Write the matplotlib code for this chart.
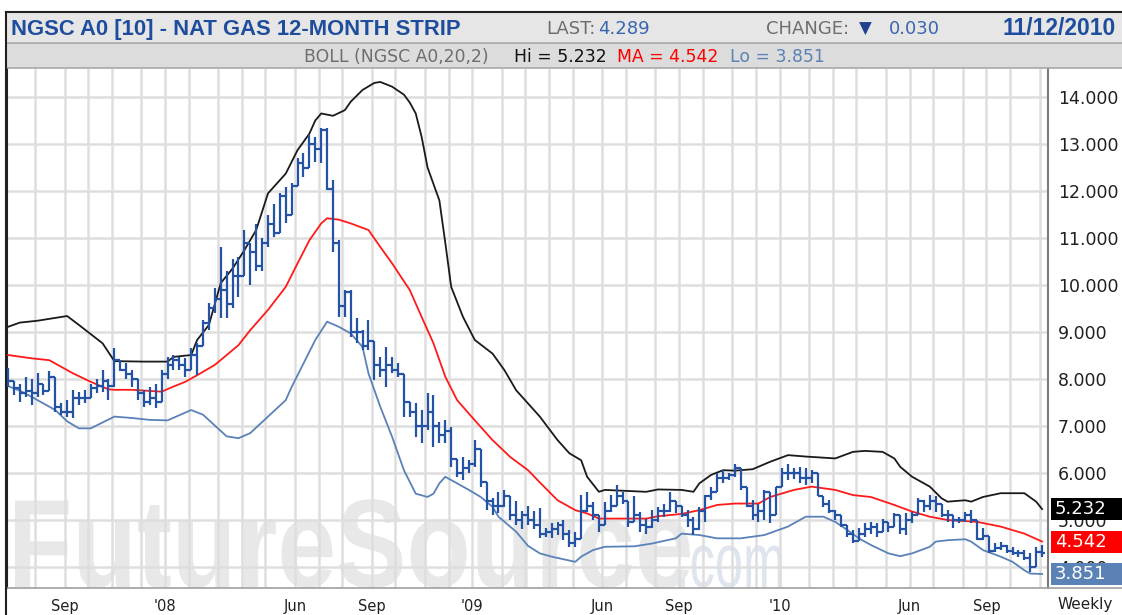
import numpy as np
import pandas as pd
import matplotlib
matplotlib.use("Agg")
import matplotlib.pyplot as plt
import matplotlib.dates as mdates
from matplotlib.textpath import TextPath
from matplotlib.patches import PathPatch, Rectangle
from matplotlib.font_manager import FontProperties
from matplotlib.transforms import Affine2D
from matplotlib.lines import Line2D

# --- Data (weekly bars) ---
first_week = "2007-07-06"
n_weeks = 176

high = [8.23, 7.94, 7.90, 8.05, 8.01, 8.12, 7.90, 8.16, 7.80, 7.48,
        7.55, 7.77, 7.73, 7.77, 7.90, 8.00, 8.19, 8.01, 8.65, 8.40,
        8.33, 8.19, 7.98, 7.77, 7.84, 7.90, 8.19, 8.47, 8.51, 8.47,
        8.44, 8.65, 8.76, 9.26, 9.61, 9.93, 10.80, 10.30, 10.55, 10.60,
        11.17, 10.90, 11.30, 11.00, 11.50, 11.73, 11.95, 12.09, 12.16, 12.70,
        12.80, 13.19, 13.15, 13.35, 13.35, 12.23, 10.95, 9.89, 9.90, 9.29,
        9.04, 9.25, 8.68, 8.47, 8.68, 8.47, 8.33, 7.87, 7.48, 7.48,
        7.34, 7.70, 7.66, 7.09, 7.13, 6.98, 6.24, 6.34, 6.27, 6.70,
        6.13, 5.64, 5.46, 5.60, 5.64, 5.39, 5.40, 5.20, 5.30, 5.20,
        5.25, 4.82, 4.93, 4.96, 5.00, 4.79, 4.75, 5.53, 5.60, 5.39,
        5.07, 5.39, 5.53, 5.74, 5.60, 5.35, 5.50, 5.18, 5.03, 5.21,
        5.28, 5.35, 5.60, 5.39, 5.25, 5.21, 5.07, 5.28, 5.53, 5.71,
        5.99, 6.06, 5.99, 6.20, 6.03, 5.71, 5.42, 5.35, 5.64, 5.42,
        5.71, 6.10, 6.20, 6.10, 6.13, 6.10, 6.06, 5.96, 5.46, 5.42,
        5.21, 5.10, 4.89, 4.79, 4.82, 4.93, 4.96, 4.93, 5.03, 4.96,
        5.14, 5.00, 5.14, 5.18, 5.46, 5.42, 5.53, 5.50, 5.32, 5.21,
        5.10, 5.07, 5.18, 5.21, 4.93, 4.82, 4.57, 4.50, 4.54, 4.47,
        4.43, 4.36, 4.36, 4.29, 4.43, 4.47]
low = [7.84, 7.66, 7.52, 7.62, 7.45, 7.62, 7.66, 7.87, 7.30, 7.23,
       7.20, 7.16, 7.45, 7.48, 7.70, 7.70, 7.73, 7.55, 7.84, 8.16,
       8.01, 7.84, 7.55, 7.41, 7.45, 7.38, 7.84, 8.01, 8.19, 8.19,
       8.05, 8.26, 8.09, 8.76, 9.04, 9.40, 9.30, 9.30, 9.50, 9.75,
       10.25, 10.00, 10.30, 10.30, 10.80, 11.02, 11.45, 11.31, 11.66, 12.20,
       12.30, 12.58, 12.62, 12.60, 12.02, 10.71, 9.32, 9.32, 8.90, 8.76,
       8.61, 8.61, 7.97, 8.05, 7.83, 8.12, 8.05, 7.20, 7.20, 6.77,
       6.63, 6.91, 6.56, 6.63, 6.63, 6.13, 5.92, 5.85, 5.99, 6.13,
       5.71, 5.21, 5.10, 5.14, 5.28, 5.00, 4.90, 4.80, 4.90, 4.80,
       4.61, 4.64, 4.61, 4.68, 4.57, 4.43, 4.43, 4.79, 5.18, 5.00,
       4.75, 4.96, 5.18, 5.39, 5.35, 4.86, 5.00, 4.75, 4.71, 4.82,
       4.96, 5.07, 5.18, 5.14, 5.07, 4.86, 4.68, 4.79, 4.96, 5.42,
       5.71, 5.78, 5.85, 5.92, 5.64, 5.28, 5.00, 4.96, 5.00, 4.93,
       5.35, 5.74, 5.85, 5.88, 5.78, 5.74, 5.78, 5.50, 5.28, 5.14,
       5.00, 4.86, 4.64, 4.50, 4.57, 4.64, 4.71, 4.64, 4.75, 4.75,
       4.86, 4.71, 4.68, 4.93, 5.18, 5.18, 5.21, 5.18, 5.07, 4.96,
       4.82, 4.93, 4.96, 4.93, 4.57, 4.57, 4.29, 4.32, 4.36, 4.29,
       4.25, 4.22, 4.15, 3.90, 4.08, 4.22]
close = [7.95, 7.80, 7.70, 7.75, 7.70, 7.90, 7.75, 8.05, 7.40, 7.30,
         7.30, 7.60, 7.60, 7.60, 7.80, 7.85, 7.95, 7.85, 8.40, 8.20,
         8.10, 8.00, 7.70, 7.50, 7.60, 7.50, 8.10, 8.30, 8.40, 8.30,
         8.20, 8.50, 8.70, 9.20, 9.50, 9.70, 9.90, 9.60, 10.20, 10.20,
         10.90, 10.70, 10.40, 10.90, 11.30, 11.10, 11.90, 11.50, 12.10, 12.60,
         12.50, 13.00, 12.90, 13.30, 12.05, 10.90, 9.55, 9.85, 9.00, 9.00,
         8.70, 8.80, 8.30, 8.20, 8.30, 8.20, 8.10, 7.50, 7.30, 7.00,
         7.00, 7.30, 7.00, 6.80, 6.90, 6.30, 6.00, 6.10, 6.20, 6.50,
         5.80, 5.40, 5.30, 5.30, 5.50, 5.10, 5.00, 5.10, 5.00, 4.90,
         4.70, 4.75, 4.80, 4.90, 4.70, 4.50, 4.60, 5.20, 5.30, 5.10,
         4.90, 5.20, 5.30, 5.50, 5.40, 4.95, 5.10, 4.90, 4.85, 5.00,
         5.20, 5.20, 5.40, 5.30, 5.10, 5.00, 4.80, 5.20, 5.50, 5.60,
         5.90, 5.90, 5.95, 6.10, 5.70, 5.30, 5.10, 5.20, 5.60, 5.10,
         5.70, 6.00, 6.00, 6.00, 5.90, 5.90, 6.00, 5.50, 5.35, 5.20,
         5.10, 4.90, 4.70, 4.55, 4.70, 4.80, 4.85, 4.75, 4.95, 4.85,
         5.10, 4.80, 5.00, 5.10, 5.40, 5.30, 5.40, 5.35, 5.10, 5.10,
         5.00, 5.00, 5.10, 5.00, 4.60, 4.65, 4.35, 4.40, 4.45, 4.35,
         4.30, 4.30, 4.20, 4.00, 4.319, 4.289]
opens = [8.10, 7.95, 7.80, 7.70, 7.75, 7.70, 7.90, 7.75, 8.05, 7.40,
         7.30, 7.30, 7.60, 7.60, 7.60, 7.80, 7.85, 7.95, 7.85, 8.40,
         8.20, 8.10, 8.00, 7.70, 7.50, 7.60, 7.50, 8.10, 8.30, 8.40,
         8.30, 8.20, 8.50, 8.70, 9.20, 9.50, 9.70, 9.90, 9.60, 10.20,
         10.20, 10.90, 10.70, 10.40, 10.90, 11.30, 11.10, 11.90, 11.50, 12.10,
         12.60, 12.50, 13.00, 12.90, 13.30, 12.05, 10.90, 9.55, 9.85, 9.00,
         9.00, 8.70, 8.80, 8.30, 8.20, 8.30, 8.20, 8.10, 7.50, 7.30,
         7.00, 7.00, 7.30, 7.00, 6.80, 6.90, 6.30, 6.00, 6.10, 6.20,
         6.50, 5.80, 5.40, 5.30, 5.30, 5.50, 5.10, 5.00, 5.10, 5.00,
         4.90, 4.70, 4.75, 4.80, 4.90, 4.70, 4.50, 4.60, 5.20, 5.30,
         5.10, 4.90, 5.20, 5.30, 5.50, 5.40, 4.95, 5.10, 4.90, 4.85,
         5.00, 5.20, 5.20, 5.40, 5.30, 5.10, 5.00, 4.80, 5.20, 5.50,
         5.60, 5.90, 5.90, 5.95, 6.10, 5.70, 5.30, 5.10, 5.20, 5.60,
         5.10, 5.70, 6.00, 6.00, 6.00, 5.90, 5.90, 6.00, 5.50, 5.35,
         5.20, 5.10, 4.90, 4.70, 4.55, 4.70, 4.80, 4.85, 4.75, 4.95,
         4.85, 5.10, 4.80, 5.00, 5.10, 5.40, 5.30, 5.40, 5.35, 5.10,
         5.10, 5.00, 5.00, 5.10, 5.00, 4.60, 4.65, 4.35, 4.40, 4.45,
         4.35, 4.30, 4.30, 4.20, 4.00, 4.32]

# Bollinger lines, sampled at week indices
up_wk = [0, 2, 5, 10, 12, 16, 18, 23, 27, 28, 31, 32, 34, 36, 38, 40, 42, 44, 47, 49,
         51, 52, 53, 55, 57, 58, 60, 62, 63, 65, 67, 68, 69, 70, 71, 73, 74, 75, 77, 79,
         82, 84, 86, 88, 90, 93, 95, 97, 98, 100, 101, 108, 110, 114, 116, 117, 119, 121, 123, 126,
         129, 132, 135, 140, 143, 145, 148, 150, 151, 153, 156, 158, 159, 162, 163, 165, 168, 172, 174, 175]
up_val = [9.11, 9.20, 9.24, 9.34, 9.15, 8.76, 8.38, 8.37, 8.37, 8.47, 8.51, 8.83, 9.15, 10.04, 10.35, 10.74, 11.17, 11.95, 12.37, 12.87,
          13.22, 13.50, 13.65, 13.60, 13.72, 13.90, 14.15, 14.30, 14.32, 14.22, 14.05, 13.88, 13.65, 13.15, 12.50, 11.80, 10.90, 9.96, 9.32, 8.83,
          8.54, 8.19, 7.76, 7.48, 7.20, 6.70, 6.42, 6.27, 5.92, 5.60, 5.64, 5.60, 5.65, 5.64, 5.60, 5.78, 5.96, 6.06, 6.05, 6.08,
          6.24, 6.38, 6.35, 6.31, 6.45, 6.47, 6.45, 6.31, 6.13, 5.92, 5.71, 5.46, 5.39, 5.42, 5.39, 5.49, 5.57, 5.57, 5.39, 5.232]
ma_wk = [0, 4, 7, 9, 11, 14, 17, 18, 21, 26, 28, 30, 32, 35, 37, 39, 41, 44, 47, 49,
         51, 53, 54, 56, 58, 61, 63, 65, 68, 70, 72, 74, 76, 79, 82, 85, 88, 90, 93, 96,
         98, 100, 104, 108, 110, 114, 117, 120, 123, 127, 129, 133, 136, 140, 143, 146, 150, 153, 156, 159,
         164, 168, 172, 175]
ma_val = [8.51, 8.44, 8.40, 8.26, 8.12, 7.94, 7.78, 7.77, 7.77, 7.73, 7.84, 7.94, 8.08, 8.30, 8.51, 8.72, 9.04, 9.47, 9.96, 10.46,
          10.95, 11.31, 11.42, 11.39, 11.31, 11.17, 10.81, 10.46, 9.89, 9.32, 8.76, 8.05, 7.55, 7.12, 6.70, 6.34, 6.06, 5.80, 5.42, 5.21,
          5.14, 5.03, 5.03, 5.03, 5.08, 5.13, 5.21, 5.32, 5.35, 5.35, 5.49, 5.64, 5.71, 5.64, 5.53, 5.49, 5.32, 5.18, 5.07, 5.00,
          4.96, 4.86, 4.71, 4.542]
lo_wk = [0, 2, 4, 8, 10, 12, 14, 18, 21, 24, 27, 31, 33, 37, 39, 41, 44, 47, 48, 50,
         52, 54, 56, 58, 60, 61, 63, 65, 67, 69, 71, 72, 73, 74, 75, 78, 80, 82, 83, 86,
         88, 90, 92, 96, 97, 99, 101, 106, 109, 113, 114, 117, 120, 124, 128, 132, 135, 138, 140, 142,
         144, 146, 149, 151, 153, 156, 157, 159, 162, 163, 165, 168, 170, 172, 173, 175]
lo_val = [7.85, 7.75, 7.62, 7.34, 7.10, 6.95, 6.95, 7.20, 7.17, 7.13, 7.12, 7.34, 7.24, 6.78, 6.74, 6.85, 7.20, 7.55, 7.83, 8.33,
          8.83, 9.22, 9.11, 8.97, 8.68, 8.12, 7.41, 6.77, 6.06, 5.56, 5.49, 5.56, 5.78, 5.92, 5.85, 5.64, 5.49, 5.28, 5.07, 4.75,
          4.45, 4.29, 4.22, 4.11, 4.22, 4.36, 4.43, 4.44, 4.50, 4.61, 4.71, 4.68, 4.61, 4.61, 4.68, 4.86, 5.07, 5.07, 4.96, 4.79,
          4.61, 4.47, 4.29, 4.23, 4.29, 4.43, 4.54, 4.57, 4.59, 4.54, 4.36, 4.22, 4.11, 3.93, 3.86, 3.851]

y_ticks = [4, 5, 6, 7, 8, 9, 10, 11, 12, 13, 14]
x_tick_months = ["2007-09", "2008-01", "2008-06", "2008-09", "2009-01", "2009-06",
                 "2009-09", "2010-01", "2010-06", "2010-09"]
x_tick_labels = ["Sep", "'08", "Jun", "Sep", "'09", "Jun", "Sep", "'10", "Jun", "Sep"]

# --- Layout (pixels) ---
W, H = 1122, 615
BAR = "#2452a4"
LOWC = "#5a82b8"
GRID = "#dedede"
NAVY = "#1f4d9d"


def fx(x):
    return x / W


def fy(y):
    return 1 - y / H


fig = plt.figure(figsize=(W / 100, H / 100), dpi=100)
fig.patch.set_facecolor("white")

# header bars
fig.add_artist(Rectangle((fx(6), fy(42)), fx(W) - fx(6), fy(12) - fy(42),
                         transform=fig.transFigure, facecolor="#e6e6e6", edgecolor="none"))
fig.add_artist(Rectangle((fx(6), fy(68)), fx(W) - fx(6), fy(43) - fy(68),
                         transform=fig.transFigure, facecolor="#dcdcdc", edgecolor="none"))
for yy, c, lw in [(12, "#202020", 1.5), (42.5, "#a8a8a8", 1.2), (68, "#a8a8a8", 1.2)]:
    fig.add_artist(Line2D([fx(6), 1], [fy(yy), fy(yy)], transform=fig.transFigure, color=c, lw=lw))
fig.add_artist(Line2D([fx(6), fx(6)], [fy(12), 0], transform=fig.transFigure, color="#202020", lw=1.5))

# plot area
ax = fig.add_axes([fx(7), fy(588), fx(1048) - fx(7), fy(69) - fy(588)])
ax.set_facecolor("white")

dates = pd.date_range(first_week, periods=n_weeks, freq="7D")
xd = mdates.date2num(dates)
step = 7.0
ax.set_xlim(xd[0] - 1.2, xd[0] + 176 * step)
ax.set_ylim(14 - (588 - 97) / 47, 14 + (97 - 69) / 47)

# monthly vertical grid at first bar of each month
month_first = [xd[k] for k in range(1, n_weeks) if dates[k].month != dates[k - 1].month]
for m in month_first:
    ax.axvline(m + 4, color=GRID, lw=1.8, zorder=1)
for t in y_ticks:
    ax.axhline(t, color=GRID, lw=1.8, zorder=1)

# watermark
fp_b = FontProperties(family="Liberation Sans", weight="bold")
fp_r = FontProperties(family="Liberation Sans")
tp = TextPath((0, 0), "FutureSource", size=100, prop=fp_b)
bb = tp.get_extents()
sx, sy = (690 - 15) / bb.width, 90 / 71.6
tr = Affine2D().translate(-bb.x0, 0).scale(sx / 100, sy / 100).translate(15 / 100, (H - 587) / 100) + fig.dpi_scale_trans
ax.add_patch(PathPatch(tp, transform=tr, facecolor="#e8e8e8", edgecolor="none", zorder=0.5))
tp2 = TextPath((0, 0), ".com", size=100, prop=fp_r)
bb2 = tp2.get_extents()
sx2, sy2 = (782 - 680) / bb2.width, 40 / 51.9
tr2 = Affine2D().translate(-bb2.x0, 0).scale(sx2 / 100, sy2 / 100).translate(680 / 100, (H - 587) / 100) + fig.dpi_scale_trans
ax.add_patch(PathPatch(tp2, transform=tr2, facecolor="#dfe5ee", edgecolor="none", zorder=0.5))

# bollinger lines
ax.plot(xd[up_wk], up_val, color="#1a1a1a", lw=1.3, zorder=3)
ax.plot(xd[ma_wk], ma_val, color="#ff1a1a", lw=1.3, zorder=3)
ax.plot(xd[lo_wk], lo_val, color=LOWC, lw=1.3, zorder=3)

# OHLC bars
o = np.array(opens)
bar_top = np.maximum(np.array(high), o)
bar_bot = np.minimum(np.array(low), o)
ax.vlines(xd, bar_bot, bar_top, color=BAR, lw=1.6, zorder=4)
ax.hlines(o, xd - 3.5, xd, color=BAR, lw=1.6, zorder=4)
ax.hlines(close, xd, xd + 3.5, color=BAR, lw=1.6, zorder=4)

# axes styling
ax.spines["top"].set_visible(False)
ax.spines["left"].set_color("#202020")
ax.spines["left"].set_linewidth(1.5)
ax.spines["right"].set_color("#7a7a7a")
ax.spines["right"].set_linewidth(1.5)
ax.spines["bottom"].set_color("#a0a0a0")
ax.spines["bottom"].set_linewidth(1.2)
fig.add_artist(Line2D([fx(1048), 1], [fy(588), fy(588)], transform=fig.transFigure, color="#a0a0a0", lw=1.2))

ax.yaxis.tick_right()
ax.set_yticks(y_ticks)
ax.set_yticklabels([f"{t:.3f}" for t in y_ticks], fontsize=12.5, color="#202020", family="DejaVu Sans")
ax.tick_params(axis="y", length=0, pad=7)

tick_pos = []
for ym in x_tick_months:
    k = [i for i, d in enumerate(dates) if d.strftime("%Y-%m") == ym][0]
    tick_pos.append(xd[k] + 4)
ax.set_xticks(tick_pos)
ax.set_xticklabels(x_tick_labels, fontsize=10.5, color="#202020", family="DejaVu Sans")
ax.tick_params(axis="x", length=0, pad=8)

# last-value boxes (they cover the 5.000 / 4.000 labels, as in the original)
ytr = ax.get_yaxis_transform()
bw = (W - 1051) / (1048 - 7)
for val, fc in [(5.232, "#000000"), (4.542, "#ff0000"), (3.851, "#5a82b4")]:
    ax.add_patch(Rectangle((1 + 3 / 1041, val - 11 / 47), bw, 22 / 47, transform=ytr,
                           facecolor=fc, edgecolor="none", clip_on=False, zorder=10))
    ax.text(1 + 7 / 1041, val, f"{val:.3f}", transform=ytr, color="white", fontsize=13,
            va="center", ha="left", clip_on=False, zorder=11, family="DejaVu Sans")

fig.text(fx(1057), fy(605), "Weekly", fontsize=11, color="#202020", va="center", ha="left")

# header text
fig.text(fx(11), fy(35), "NGSC A0 [10] - NAT GAS 12-MONTH STRIP", fontsize=15.8,
         fontweight="bold", color=NAVY, family="Liberation Sans", va="baseline")
fig.text(fx(546), fy(34), "LAST:", fontsize=13, color="#6e6e6e", va="baseline")
fig.text(fx(598), fy(34), "4.289", fontsize=13, color="#3a66b0", va="baseline")
fig.text(fx(766), fy(34), "CHANGE:", fontsize=13, color="#6e6e6e", va="baseline")
fig.text(fx(859), fy(34), "\u25BC", fontsize=12, color="#1f3f8f", va="baseline")
fig.text(fx(889), fy(34), "0.030", fontsize=13, color="#3a66b0", va="baseline")
fig.text(fx(1003), fy(35), "11/12/2010", fontsize=16.5, fontweight="bold", color=NAVY,
         family="Liberation Sans", va="baseline")

fig.text(fx(304), fy(62), "BOLL (NGSC A0,20,2)", fontsize=12.4, color="#6e6e6e", va="baseline")
fig.text(fx(514), fy(62), "Hi = 5.232", fontsize=12.4, color="#111111", va="baseline")
fig.text(fx(617), fy(62), "MA = 4.542", fontsize=12.4, color="#ff0000", va="baseline")
fig.text(fx(730), fy(62), "Lo = 3.851", fontsize=12.4, color="#5a82b4", va="baseline")

fig.savefig("out.png", dpi=100)
